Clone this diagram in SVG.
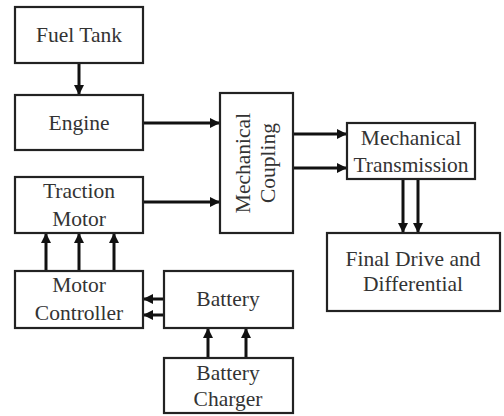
<svg xmlns="http://www.w3.org/2000/svg" width="504" height="416" viewBox="0 0 504 416">
<style>
.box{fill:#fff;stroke:#222;stroke-width:2.2}
text{font-size:21.5px;fill:#333;text-anchor:middle}
.c{stroke:#111;stroke-width:3;fill:none;marker-end:url(#ah)}
</style>
<defs>
<marker id="ah" viewBox="0 0 10 10" refX="10" refY="5" markerWidth="11" markerHeight="10" markerUnits="userSpaceOnUse" orient="auto">
<path d="M0,0 L10,5 L0,10 Z" fill="#111"/>
</marker>
</defs>
<rect width="504" height="416" fill="#fff"/>
<g id="connectors">
<line class="c" x1="79" y1="63" x2="79" y2="95"/>
<line class="c" x1="143" y1="123" x2="220" y2="123"/>
<line class="c" x1="143" y1="202" x2="220" y2="202"/>
<line class="c" x1="293" y1="134" x2="347" y2="134"/>
<line class="c" x1="293" y1="168" x2="347" y2="168"/>
<line class="c" x1="403" y1="179" x2="403" y2="233"/>
<line class="c" x1="418" y1="179" x2="418" y2="233"/>
<line class="c" x1="46" y1="271" x2="46" y2="233"/>
<line class="c" x1="79" y1="271" x2="79" y2="233"/>
<line class="c" x1="114" y1="271" x2="114" y2="233"/>
<line class="c" x1="164" y1="299" x2="143" y2="299"/>
<line class="c" x1="164" y1="315" x2="143" y2="315"/>
<line class="c" x1="208" y1="358" x2="208" y2="328"/>
<line class="c" x1="246" y1="358" x2="246" y2="328"/>
</g>
<g font-family="Liberation Serif, Times New Roman, serif">
<g id="fuel-tank"><rect class="box" x="15" y="7" width="128" height="56"/><text x="79" y="42">Fuel Tank</text></g>
<g id="engine"><rect class="box" x="15" y="95" width="128" height="55"/><text x="79" y="130">Engine</text></g>
<g id="traction-motor"><rect class="box" x="15" y="177" width="128" height="56"/><text x="79" y="198">Traction</text><text x="79" y="226">Motor</text></g>
<g id="mechanical-coupling"><rect class="box" x="220" y="93" width="73" height="140"/><text transform="translate(250,163) rotate(-90)">Mechanical</text><text transform="translate(275,163) rotate(-90)">Coupling</text></g>
<g id="mechanical-transmission"><rect class="box" x="347" y="123" width="128" height="56"/><text x="411" y="145">Mechanical</text><text x="411" y="172">Transmission</text></g>
<g id="final-drive"><rect class="box" x="327" y="233" width="173" height="78"/><text x="413" y="266">Final Drive and</text><text x="413" y="291">Differential</text></g>
<g id="motor-controller"><rect class="box" x="15" y="271" width="128" height="57"/><text x="79" y="292">Motor</text><text x="79" y="320">Controller</text></g>
<g id="battery"><rect class="box" x="164" y="271" width="129" height="57"/><text x="228" y="306">Battery</text></g>
<g id="battery-charger"><rect class="box" x="164" y="358" width="129" height="55"/><text x="228" y="380">Battery</text><text x="228" y="406">Charger</text></g>
</g>
</svg>
